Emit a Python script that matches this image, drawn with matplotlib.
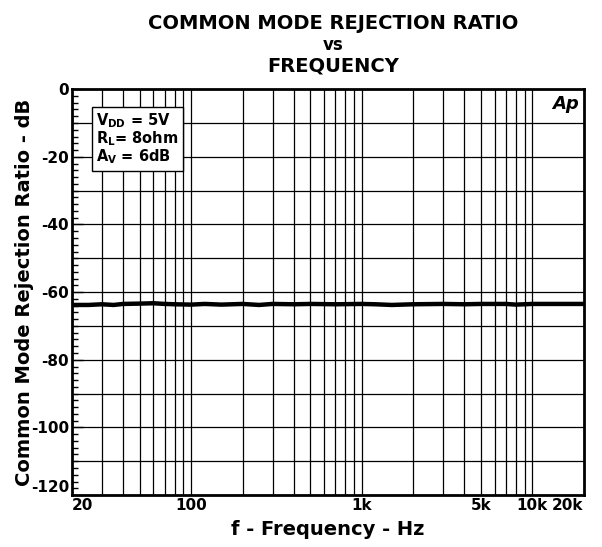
import numpy as np
import matplotlib
matplotlib.use('Agg')
import matplotlib.pyplot as plt
from matplotlib.ticker import FixedLocator, NullFormatter

plt.rcParams['font.family'] = 'DejaVu Sans'
plt.rcParams['font.weight'] = 'bold'
plt.rcParams['mathtext.fontset'] = 'dejavusans'

# ── Data ──────────────────────────────────────────────────────────────────────
freq_hz = [20, 25, 30, 35, 40, 50, 60, 70, 80, 100, 120, 150, 200, 250, 300,
           400, 500, 700, 1000, 1200, 1500, 2000, 3000, 4000, 5000, 7000,
           8000, 10000, 20000]
cmrr_db = [-63.8, -63.8, -63.6, -63.8, -63.5, -63.4, -63.3, -63.5, -63.6,
           -63.7, -63.5, -63.7, -63.5, -63.8, -63.5, -63.6, -63.5, -63.6,
           -63.5, -63.6, -63.8, -63.6, -63.5, -63.6, -63.5, -63.5, -63.7,
           -63.5, -63.5]

x_grid = [30, 40, 50, 60, 70, 80, 90, 100, 200, 300, 400, 500, 600, 700, 800,
          900, 1000, 2000, 3000, 4000, 5000, 6000, 7000, 8000, 9000, 10000]
x_tick_vals = [20, 100, 1000, 5000, 10000, 20000]
x_tick_labels = ['20', '100', '1k', '5k', '10k', '20k']
y_tick_vals = [0, -20, -40, -60, -80, -100, -120]

# ── Plot ──────────────────────────────────────────────────────────────────────
fig = plt.figure(figsize=(6.02, 5.47), dpi=100)
ax = fig.add_axes([0.1196, 0.095, 0.850, 0.742])

for f in x_grid:
    ax.axvline(f, color='black', linewidth=0.9, zorder=1)
for y in range(-110, 0, 10):
    ax.axhline(y, color='black', linewidth=0.9, zorder=1)

ax.plot(freq_hz, cmrr_db, color='black', linewidth=3.2, zorder=3)

ax.set_xscale('log')
ax.set_xlim(20, 20000)
ax.set_ylim(-120, 0)

ax.xaxis.set_major_locator(FixedLocator(x_tick_vals))
ax.xaxis.set_minor_locator(FixedLocator([]))
ax.xaxis.set_minor_formatter(NullFormatter())
xlabels = ax.set_xticklabels(x_tick_labels, fontsize=11, fontweight='bold')
xlabels[0].set_ha('left')
xlabels[-1].set_ha('right')
ax.tick_params(axis='x', length=0, pad=2)

ax.yaxis.set_major_locator(FixedLocator(y_tick_vals))
ax.yaxis.set_minor_locator(FixedLocator(list(range(-118, 0, 2))))
ylabels = ax.set_yticklabels([str(v) for v in y_tick_vals], fontsize=11, fontweight='bold')
ylabels[-1].set_va('bottom')
ax.tick_params(axis='y', which='major', direction='in', length=8, width=1, pad=2)
ax.tick_params(axis='y', which='minor', direction='in', length=4, width=1)

for s in ax.spines.values():
    s.set_linewidth(2)

ax.set_xlabel('f - Frequency - Hz', fontsize=14, fontweight='bold')
ax.xaxis.set_label_coords(0.5, -0.062)
ax.set_ylabel('Common Mode Rejection Ratio - dB', fontsize=14, fontweight='bold')
ax.yaxis.set_label_coords(-0.074, 0.5)

fig.text(0.553, 0.975, 'COMMON MODE REJECTION RATIO', ha='center', va='top',
         fontsize=14, fontweight='bold')
fig.text(0.553, 0.935, 'vs', ha='center', va='top', fontsize=12, fontweight='bold')
fig.text(0.553, 0.897, 'FREQUENCY', ha='center', va='top', fontsize=14, fontweight='bold')

ax.text(0.047, 0.945,
        'V$_{\\mathbf{DD}}$ = 5V\nR$_{\\mathbf{L}}$= 8ohm\nA$_{\\mathbf{V}}$ = 6dB',
        transform=ax.transAxes, ha='left', va='top', fontsize=10.5,
        fontweight='bold', linespacing=0.95, zorder=5,
        bbox=dict(boxstyle='square,pad=0.3', facecolor='white',
                  edgecolor='black', linewidth=1))

ax.text(0.99, 0.985, 'Ap', transform=ax.transAxes, ha='right', va='top',
        fontsize=13, fontweight='heavy', style='italic', zorder=5)

fig.savefig('out.png', dpi=100)
